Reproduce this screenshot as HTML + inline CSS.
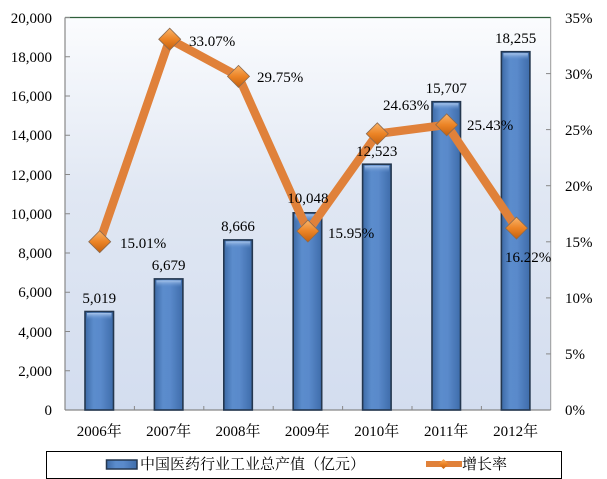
<!DOCTYPE html>
<html><head><meta charset="utf-8">
<style>
html,body{margin:0;padding:0;background:#fff;}
svg{display:block;}
text{font-family:"Liberation Serif","Noto Serif CJK SC",serif;font-size:15px;fill:#000;}
</style></head>
<body>
<svg width="607" height="479" viewBox="0 0 607 479" xmlns="http://www.w3.org/2000/svg">
<defs>
<linearGradient id="bg" x1="0" y1="0" x2="0" y2="1">
<stop offset="0" stop-color="#fbfcfe"/>
<stop offset="0.45" stop-color="#e0e7f3"/>
<stop offset="1" stop-color="#d3ddef"/>
</linearGradient>
<linearGradient id="bar" x1="0" y1="0" x2="1" y2="0">
<stop offset="0" stop-color="#3d6aa6"/>
<stop offset="0.3" stop-color="#5b8ccc"/>
<stop offset="0.55" stop-color="#5a8acb"/>
<stop offset="1" stop-color="#3e6caa"/>
</linearGradient>
<linearGradient id="cap" x1="0" y1="0" x2="0" y2="1">
<stop offset="0" stop-color="#a9c6ec"/>
<stop offset="1" stop-color="#5a8acb" stop-opacity="0"/>
</linearGradient>
<linearGradient id="dia" x1="0" y1="0" x2="0" y2="1">
<stop offset="0" stop-color="#f9b46a"/>
<stop offset="0.5" stop-color="#ec8426"/>
<stop offset="1" stop-color="#c4600e"/>
</linearGradient>
</defs>

<!-- plot area -->
<rect x="65" y="17.5" width="485.7" height="392.5" fill="url(#bg)"/>
<line x1="65" y1="17.5" x2="550.7" y2="17.5" stroke="#2f5f3a" stroke-width="1.3"/>
<line x1="550.7" y1="17.5" x2="550.7" y2="410" stroke="#999" stroke-width="1"/>
<line x1="65" y1="17.5" x2="65" y2="410" stroke="#888" stroke-width="1.2"/>
<line x1="65" y1="410" x2="550.7" y2="410" stroke="#888" stroke-width="1.2"/>

<!-- left ticks -->
<g stroke="#888" stroke-width="1">
<line x1="65" y1="17.5" x2="70" y2="17.5"/>
<line x1="65" y1="56.75" x2="70" y2="56.75"/>
<line x1="65" y1="96" x2="70" y2="96"/>
<line x1="65" y1="135.25" x2="70" y2="135.25"/>
<line x1="65" y1="174.5" x2="70" y2="174.5"/>
<line x1="65" y1="213.75" x2="70" y2="213.75"/>
<line x1="65" y1="253" x2="70" y2="253"/>
<line x1="65" y1="292.25" x2="70" y2="292.25"/>
<line x1="65" y1="331.5" x2="70" y2="331.5"/>
<line x1="65" y1="370.75" x2="70" y2="370.75"/>
<!-- right ticks -->
<line x1="546" y1="73.6" x2="550.7" y2="73.6"/>
<line x1="546" y1="129.6" x2="550.7" y2="129.6"/>
<line x1="546" y1="185.7" x2="550.7" y2="185.7"/>
<line x1="546" y1="241.8" x2="550.7" y2="241.8"/>
<line x1="546" y1="297.9" x2="550.7" y2="297.9"/>
<line x1="546" y1="353.9" x2="550.7" y2="353.9"/>
<!-- bottom ticks -->
<line x1="134.4" y1="406" x2="134.4" y2="410"/>
<line x1="203.8" y1="406" x2="203.8" y2="410"/>
<line x1="273.2" y1="406" x2="273.2" y2="410"/>
<line x1="342.6" y1="406" x2="342.6" y2="410"/>
<line x1="412" y1="406" x2="412" y2="410"/>
<line x1="481.4" y1="406" x2="481.4" y2="410"/>
</g>

<!-- left labels -->
<g text-anchor="end">
<text x="52" y="23">20,000</text>
<text x="52" y="62">18,000</text>
<text x="52" y="101">16,000</text>
<text x="52" y="140">14,000</text>
<text x="52" y="180">12,000</text>
<text x="52" y="219">10,000</text>
<text x="52" y="258">8,000</text>
<text x="52" y="297">6,000</text>
<text x="52" y="337">4,000</text>
<text x="52" y="376">2,000</text>
<text x="52" y="415">0</text>
</g>
<!-- right labels -->
<g>
<text x="565" y="23">35%</text>
<text x="565" y="79">30%</text>
<text x="565" y="135">25%</text>
<text x="565" y="191">20%</text>
<text x="565" y="247">15%</text>
<text x="565" y="303">10%</text>
<text x="565" y="359">5%</text>
<text x="565" y="415">0%</text>
</g>
<!-- x labels -->
<g text-anchor="middle">
<text x="99.2" y="436">2006年</text>
<text x="168.6" y="436">2007年</text>
<text x="238" y="436">2008年</text>
<text x="307.4" y="436">2009年</text>
<text x="376.8" y="436">2010年</text>
<text x="446.2" y="436">2011年</text>
<text x="515.6" y="436">2012年</text>
</g>

<!-- bars -->
<g stroke="#24374f" stroke-width="1.6">
<rect x="85" y="311.5" width="28.5" height="98.5" fill="url(#bar)"/>
<rect x="154.4" y="278.9" width="28.5" height="131.1" fill="url(#bar)"/>
<rect x="223.8" y="239.9" width="28.5" height="170.1" fill="url(#bar)"/>
<rect x="293.2" y="212.8" width="28.5" height="197.2" fill="url(#bar)"/>
<rect x="362.6" y="164.2" width="28.5" height="245.8" fill="url(#bar)"/>
<rect x="432" y="101.7" width="28.5" height="308.3" fill="url(#bar)"/>
<rect x="501.4" y="51.7" width="28.5" height="358.3" fill="url(#bar)"/>
</g>
<g fill="url(#cap)">
<rect x="87" y="313" width="24.5" height="7"/>
<rect x="156.4" y="280.4" width="24.5" height="7"/>
<rect x="225.8" y="241.4" width="24.5" height="7"/>
<rect x="295.2" y="214.3" width="24.5" height="7"/>
<rect x="364.6" y="165.7" width="24.5" height="7"/>
<rect x="434" y="103.2" width="24.5" height="7"/>
<rect x="503.4" y="53.2" width="24.5" height="7"/>
</g>

<!-- line -->
<polyline points="99.7,241.7 169.7,39.2 238.5,76.4 307.9,231.1 377.3,133.8 446.7,124.8 516.5,228.1" fill="none" stroke="#e0813a" stroke-width="8.5" stroke-linejoin="round"/>
<g fill="url(#dia)" stroke="#8a6a50" stroke-width="0.8">
<polygon points="99.7,230.7 110.7,241.7 99.7,252.7 88.7,241.7"/>
<polygon points="169.7,28.2 180.7,39.2 169.7,50.2 158.7,39.2"/>
<polygon points="238.5,65.4 249.5,76.4 238.5,87.4 227.5,76.4"/>
<polygon points="307.9,220.1 318.9,231.1 307.9,242.1 296.9,231.1"/>
<polygon points="377.3,122.8 388.3,133.8 377.3,144.8 366.3,133.8"/>
<polygon points="446.7,113.8 457.7,124.8 446.7,135.8 435.7,124.8"/>
<polygon points="516.5,217.1 527.5,228.1 516.5,239.1 505.5,228.1"/>
</g>

<!-- value labels -->
<g text-anchor="middle">
<text x="99.2" y="303">5,019</text>
<text x="168.6" y="270">6,679</text>
<text x="238" y="231">8,666</text>
<text x="307.9" y="203">10,048</text>
<text x="376.8" y="156">12,523</text>
<text x="446.2" y="93">15,707</text>
<text x="515.6" y="43">18,255</text>
</g>
<!-- percent labels -->
<g>
<text x="120" y="248">15.01%</text>
<text x="189" y="46">33.07%</text>
<text x="257" y="82">29.75%</text>
<text x="328" y="238">15.95%</text>
<text x="383" y="110">24.63%</text>
<text x="467" y="130">25.43%</text>
<text x="505" y="262">16.22%</text>
</g>

<!-- legend -->
<rect x="46.5" y="451.5" width="515" height="27" fill="#fff" stroke="#000" stroke-width="1"/>
<rect x="106.5" y="460" width="30.5" height="9" fill="url(#bar)" stroke="#24374f" stroke-width="1.5"/>
<text x="140" y="469">中国医药行业工业总产值（亿元）</text>
<rect x="426" y="461" width="36" height="6" fill="#e0813a"/>
<polygon points="443.5,459 448.5,464 443.5,469 438.5,464" fill="url(#dia)"/>
<text x="462" y="469">增长率</text>
</svg>
</body></html>
